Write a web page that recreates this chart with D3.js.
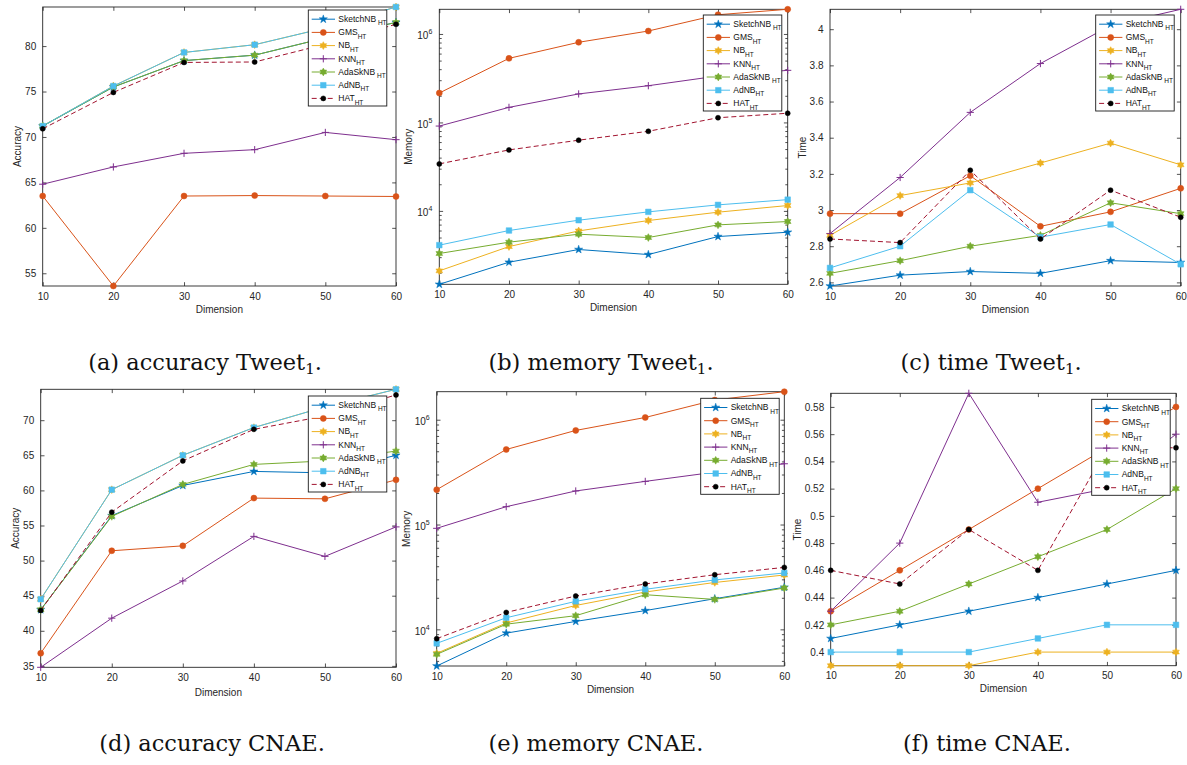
<!DOCTYPE html>
<html><head><meta charset="utf-8">
<script src="https://cdn.jsdelivr.net/npm/d3@7"></script>
<style>body{margin:0;background:#fff}svg{display:block}</style>
</head><body>
<svg id="c" width="1187" height="765"></svg>
<script>
// ---------------- data ----------------
const dims = [10, 20, 30, 40, 50, 60];
const seriesNames = ["SketchNB", "GMS", "NB", "KNN", "AdaSkNB", "AdNB", "HAT"];
const seriesSubs = [" HT", "HT", "HT", "HT", " HT", "HT", "HT"];

// (a) accuracy Tweet1  (series order as seriesNames)
const accTweet = [
  [71.2, 75.5, 78.4, 79.0, 80.9, 82.6],
  [63.5, 53.6, 63.5, 63.55, 63.5, 63.45],
  [71.2, 75.6, 79.3, 80.15, 82.0, 84.3],
  [64.8, 66.7, 68.2, 68.6, 70.5, 69.7],
  [71.2, 75.5, 78.4, 79.0, 80.9, 82.6],
  [71.2, 75.6, 79.3, 80.15, 82.0, 84.3],
  [70.9, 74.9, 78.2, 78.25, 80.2, 82.4]
];
// (b) memory Tweet1
const memTweet = [
  [1480, 2630, 3660, 3210, 5130, 5740],
  [215000, 530000, 805000, 1080000, 1650000, 1900000],
  [2100, 3950, 5940, 7780, 9670, 11500],
  [91000, 148000, 210000, 260000, 335000, 388000],
  [3300, 4430, 5450, 5000, 6950, 7580],
  [4100, 6000, 7850, 9750, 11700, 13400],
  [34000, 48900, 63000, 79400, 113000, 127000]
];
// (c) time Tweet1
const timeTweet = [
  [2.58, 2.64, 2.66, 2.65, 2.72, 2.71],
  [2.98, 2.98, 3.19, 2.91, 2.99, 3.12],
  [2.86, 3.08, 3.15, 3.26, 3.37, 3.25],
  [2.87, 3.18, 3.54, 3.81, 4.02, 4.11],
  [2.65, 2.72, 2.80, 2.86, 3.04, 2.98],
  [2.68, 2.80, 3.11, 2.85, 2.92, 2.70],
  [2.84, 2.82, 3.22, 2.84, 3.11, 2.96]
];
// (d) accuracy CNAE
const accCnae = [
  [43.0, 56.4, 60.7, 62.7, 62.5, 65.0],
  [36.8, 51.4, 52.1, 58.9, 58.8, 61.5],
  [44.5, 60.1, 65.0, 68.95, 71.9, 74.4],
  [34.8, 41.8, 47.1, 53.45, 50.6, 54.8],
  [43.0, 56.3, 60.85, 63.7, 64.2, 65.6],
  [44.5, 60.1, 65.0, 68.95, 71.9, 74.4],
  [42.9, 56.9, 64.2, 68.7, 70.6, 73.6]
];
// (e) memory CNAE
const memCnae = [
  [4470, 9200, 11900, 15100, 19600, 25200],
  [215000, 520000, 790000, 1050000, 1540000, 1850000],
  [5900, 11500, 16900, 22700, 28000, 33000],
  [92000, 148000, 209000, 258000, 316000, 380000],
  [5770, 11200, 13500, 21400, 19300, 24800],
  [7350, 12900, 18500, 24100, 29600, 34500],
  [8150, 14500, 20800, 27100, 33200, 39000]
];
// (f) time CNAE
const timeCnae = [
  [0.41, 0.42, 0.43, 0.44, 0.45, 0.46],
  [0.43, 0.46, 0.49, 0.52, 0.55, 0.58],
  [0.39, 0.39, 0.39, 0.40, 0.40, 0.40],
  [0.43, 0.48, 0.59, 0.51, 0.52, 0.56],
  [0.42, 0.43, 0.45, 0.47, 0.49, 0.52],
  [0.40, 0.40, 0.40, 0.41, 0.42, 0.42],
  [0.46, 0.45, 0.49, 0.46, 0.55, 0.55]
];

const accTweetTicks = [55, 60, 65, 70, 75, 80];
const memTicks = [1e4, 1e5, 1e6];
const timeTweetTicks = [2.6, 2.8, 3, 3.2, 3.4, 3.6, 3.8, 4];
const accCnaeTicks = [35, 40, 45, 50, 55, 60, 65, 70];
const timeCnaeTicks = [0.4, 0.42, 0.44, 0.46, 0.48, 0.5, 0.52, 0.54, 0.56, 0.58];
const yLabels = ["Accuracy", "Memory", "Time", "Accuracy", "Memory", "Time"];
const xLabel = "Dimension";
const captionMain = ["(a) accuracy Tweet", "(b) memory Tweet", "(c) time Tweet", "(d) accuracy CNAE.", "(e) memory CNAE.", "(f) time CNAE."];
const captionSub = ["1", "1", "1", "", "", ""];
const captionEnd = [".", ".", ".", "", "", ""];

// ---------------- style / layout ----------------
const colors = ["#0072BD", "#D95319", "#EDB120", "#7E2F8E", "#77AC30", "#4DBEEE", "#A2142F"];
const markers = ["star", "circle", "hexagram", "plus", "hexagram", "square", "dot"];
const axisColor = "#262626";
const FONT = "'Liberation Sans', Arial, sans-serif";

const panels = [
  {vals: accTweet, log: false, ticks: accTweetTicks, L: 42.7, R: 396, T: 7, B: 286, ylx: 17, xly: 309, leg: [308.3, 10]},
  {vals: memTweet, log: true, ticks: memTicks, L: 439.3, R: 787.7, T: 9.3, B: 284.3, ylx: 408, xly: 307, leg: [703.3, 15]},
  {vals: timeTweet, log: false, ticks: timeTweetTicks, L: 830, R: 1180.7, T: 9.3, B: 286, ylx: 802, xly: 309, leg: [1095.7, 15]},
  {vals: accCnae, log: false, ticks: accCnaeTicks, L: 40.7, R: 396, T: 389.3, B: 667.3, ylx: 15.5, xly: 692, leg: [308.3, 396]},
  {vals: memCnae, log: true, ticks: memTicks, L: 436.7, R: 784.3, T: 391.7, B: 666, ylx: 406, xly: 689, leg: [700.7, 398.3]},
  {vals: timeCnae, log: false, ticks: timeCnaeTicks, L: 830.7, R: 1176, T: 393.3, B: 665.7, ylx: 797, xly: 688, leg: [1091.7, 399.3]}
];
const captionPos = [[205, 370], [601, 370], [991, 370], [212, 751], [596, 751], [987, 751]];

const svg = d3.select("#c");

function markerPath(type) {
  const p = d3.path();
  if (type === "star") {
    const R = 4.3, r = R * 0.382;
    for (let i = 0; i < 10; i++) {
      const a = -Math.PI / 2 + i * Math.PI / 5, rad = i % 2 ? r : R;
      i ? p.lineTo(rad * Math.cos(a), rad * Math.sin(a)) : p.moveTo(rad * Math.cos(a), rad * Math.sin(a));
    }
    p.closePath();
  } else if (type === "hexagram") {
    const R = 3.9, r = R / Math.sqrt(3);
    for (let i = 0; i < 12; i++) {
      const a = -Math.PI / 2 + i * Math.PI / 6, rad = i % 2 ? r : R;
      i ? p.lineTo(rad * Math.cos(a), rad * Math.sin(a)) : p.moveTo(rad * Math.cos(a), rad * Math.sin(a));
    }
    p.closePath();
  } else if (type === "circle") {
    p.arc(0, 0, 3, 0, 2 * Math.PI);
  } else if (type === "dot") {
    p.arc(0, 0, 2.5, 0, 2 * Math.PI);
  } else if (type === "square") {
    p.rect(-2.8, -2.8, 5.6, 5.6);
  } else if (type === "plus") {
    p.moveTo(-3.6, 0); p.lineTo(3.6, 0); p.moveTo(0, -3.6); p.lineTo(0, 3.6);
  }
  return p.toString();
}

function drawMarker(g, type, color, x, y) {
  const el = g.append("path").attr("d", markerPath(type)).attr("transform", `translate(${x},${y})`);
  if (type === "plus") el.attr("fill", "none").attr("stroke", color).attr("stroke-width", 1);
  else if (type === "dot") el.attr("fill", "#000").attr("stroke", "#000").attr("stroke-width", 0.5);
  else el.attr("fill", color).attr("stroke", color).attr("stroke-width", 0.5);
}

panels.forEach((P, pi) => {
  const g = svg.append("g");
  const x = d3.scaleLinear().domain([10, 60]).range([P.L, P.R]);
  const all = P.vals.flat();
  const y = (P.log ? d3.scaleLog() : d3.scaleLinear()).domain(d3.extent(all)).range([P.B, P.T]);

  // axes box
  g.append("rect").attr("x", P.L).attr("y", P.T).attr("width", P.R - P.L).attr("height", P.B - P.T)
    .attr("fill", "#fff").attr("stroke", axisColor).attr("stroke-width", 0.9);

  const tk = 3.8;
  // x axis bottom & top
  const xb = g.append("g").attr("transform", `translate(0,${P.B})`)
    .call(d3.axisBottom(x).tickValues(dims).tickSize(-tk).tickPadding(6.5).tickFormat(d3.format("d")));
  const xt = g.append("g").attr("transform", `translate(0,${P.T})`)
    .call(d3.axisTop(x).tickValues(dims).tickSize(-tk).tickFormat(""));
  // y axis left & right
  let yl, yr;
  if (!P.log) {
    yl = g.append("g").attr("transform", `translate(${P.L},0)`)
      .call(d3.axisLeft(y).tickValues(P.ticks).tickSize(-tk).tickPadding(6.5).tickFormat(d3.format("~g")));
    yr = g.append("g").attr("transform", `translate(${P.R},0)`)
      .call(d3.axisRight(y).tickValues(P.ticks).tickSize(-tk).tickFormat(""));
  } else {
    yl = g.append("g").attr("transform", `translate(${P.L},0)`)
      .call(d3.axisLeft(y).tickValues(P.ticks).tickSize(-tk).tickPadding(7).tickFormat(""));
    yr = g.append("g").attr("transform", `translate(${P.R},0)`)
      .call(d3.axisRight(y).tickValues(P.ticks).tickSize(-tk).tickFormat(""));
    // minor ticks
    const [lo, hi] = y.domain();
    const minors = [];
    for (let e = 3; e <= 6; e++) for (let k = 2; k <= 9; k++) {
      const v = k * Math.pow(10, e);
      if (v >= lo && v <= hi) minors.push(v);
    }
    g.append("g").attr("transform", `translate(${P.L},0)`)
      .call(d3.axisLeft(y).tickValues(minors).tickSize(-2.4).tickFormat(""));
    g.append("g").attr("transform", `translate(${P.R},0)`)
      .call(d3.axisRight(y).tickValues(minors).tickSize(-2.4).tickFormat(""));
    // labels 10^n
    P.ticks.forEach(v => {
      const t = g.append("text").attr("x", P.L - 7).attr("y", y(v) + 5.5)
        .attr("text-anchor", "end").attr("font-family", FONT).attr("font-size", 10).attr("fill", axisColor);
      t.append("tspan").text("10");
      t.append("tspan").attr("font-size", 7).attr("dy", -5).text(String(Math.round(Math.log10(v))));
    });
  }
  g.selectAll(".domain").remove();
  g.selectAll(".tick line").attr("stroke", axisColor).attr("stroke-width", 0.8);
  g.selectAll(".tick text").attr("font-family", FONT).attr("font-size", 10).attr("fill", axisColor);

  // axis labels
  g.append("text").attr("x", (P.L + P.R) / 2).attr("y", P.xly + 3.5).attr("text-anchor", "middle")
    .attr("font-family", FONT).attr("font-size", 10).attr("fill", axisColor).text(xLabel);
  g.append("text").attr("transform", `translate(${P.ylx + 3.5},${(P.T + P.B) / 2}) rotate(-90)`)
    .attr("text-anchor", "middle").attr("font-family", FONT).attr("font-size", 10).attr("fill", axisColor).text(yLabels[pi]);

  // series
  const line = d3.line().x((d, i) => x(dims[i])).y(d => y(d));
  P.vals.forEach((vals, si) => {
    const sg = g.append("g");
    sg.append("path").attr("d", line(vals)).attr("fill", "none").attr("stroke", colors[si])
      .attr("stroke-width", 1).attr("stroke-dasharray", si === 6 ? "5,3" : null);
    vals.forEach((v, i) => drawMarker(sg, markers[si], colors[si], x(dims[i]), y(v)));
  });

  // legend
  const [lx, ly] = P.leg;
  const lg = g.append("g");
  lg.append("rect").attr("x", lx).attr("y", ly).attr("width", 78.5).attr("height", 96)
    .attr("fill", "#fff").attr("stroke", "#1a1a1a").attr("stroke-width", 0.9);
  seriesNames.forEach((name, si) => {
    const ry = ly + 9.2 + si * 13.2;
    lg.append("line").attr("x1", lx + 3.4).attr("x2", lx + 26.7).attr("y1", ry).attr("y2", ry)
      .attr("stroke", colors[si]).attr("stroke-width", 1).attr("stroke-dasharray", si === 6 ? "5,3" : null);
    drawMarker(lg, markers[si], colors[si], lx + 15, ry);
    const t = lg.append("text").attr("x", lx + 30).attr("y", ry + 2.8)
      .attr("font-family", FONT).attr("font-size", 8.5).attr("fill", "#111");
    t.append("tspan").text(name);
    t.append("tspan").attr("font-size", 6.5).attr("dy", 3.4).text(seriesSubs[si]);
  });

  // caption
  const [cx, cy] = captionPos[pi];
  const ct = svg.append("text").attr("x", cx).attr("y", cy).attr("text-anchor", "middle")
    .attr("font-family", "'DejaVu Serif', serif").attr("font-size", 22.5).attr("fill", "#111");
  ct.append("tspan").text(captionMain[pi]);
  if (captionSub[pi]) {
    ct.append("tspan").attr("font-size", 15).attr("dy", 4).text(captionSub[pi]);
    ct.append("tspan").attr("dy", -4).text(captionEnd[pi]);
  }
});
</script>
</body></html>
